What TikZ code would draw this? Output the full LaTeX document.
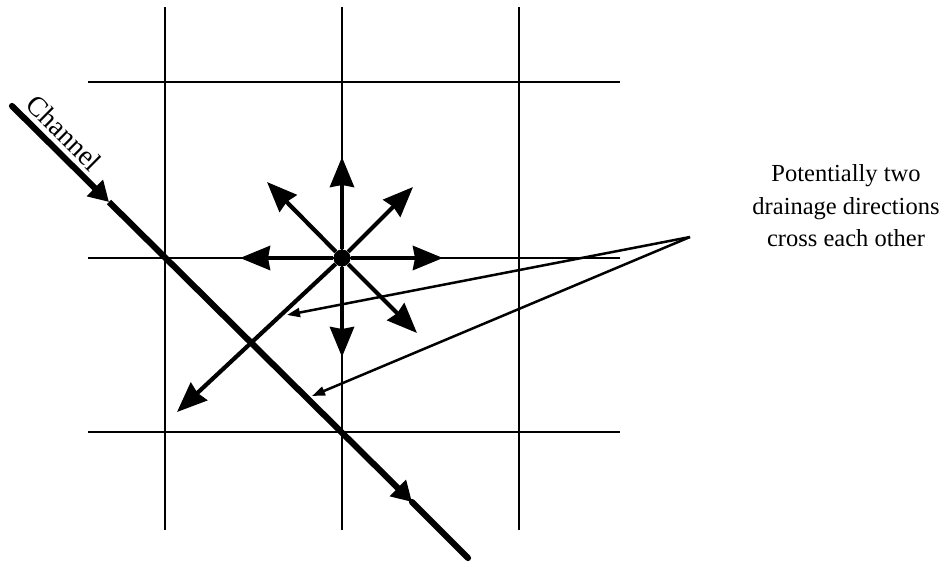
\documentclass[tikz,border=0pt]{standalone}
\usepackage{fontspec}
\setmainfont{Liberation Serif}
\usetikzlibrary{arrows.meta}
\tikzset{
  gridline/.style={line width=2.3pt},
  drain/.style={line width=4.2pt,-{Stealth[length=30pt,width=24pt,inset=2pt]}},
  chan/.style={line width=6.2pt},
  chanhead/.style={line width=6.2pt,-{Triangle[length=20pt,width=22pt]}},
  note/.style={line width=2.5pt,-{Triangle[length=13pt,width=9pt]}},
}
\begin{document}
\begin{tikzpicture}[x=1pt,y=-1pt]
\useasboundingbox (0,0) rectangle (941,564);
% grid
\foreach \gx in {165,342,519} \draw[gridline] (\gx,7) -- (\gx,530);
\foreach \gy in {82,258,432} \draw[gridline] (88,\gy) -- (620,\gy);
% channel
\coordinate (c0) at (12,106);
\coordinate (t1) at (109,202);
\coordinate (t2) at (412,502);
\coordinate (c1) at (468,558);
\draw[chanhead,line cap=round] (c0) -- (t1);
\draw[chanhead] (t1) -- (t2);
\draw[chan,line cap=round] (t2) -- (c1);
\node[rotate=-44.7,anchor=south,inner sep=0pt,font=\fontsize{28}{30}\selectfont] (chlabel) at (57,140) {Channel};
% drainage directions
\node[circle,fill,minimum size=17pt,inner sep=0pt] (c) at (342,258) {};
\coordinate (up) at (342,157);
\coordinate (ul) at (267,182);
\coordinate (ur) at (413,187);
\coordinate (lt) at (240,258);
\coordinate (rt) at (443,258);
\coordinate (dn) at (342,357);
\coordinate (lr) at (417,333);
\coordinate (ll) at (177,412);
\foreach \p in {up,ul,ur,lt,rt,dn,lr,ll} \draw[drain] (c) -- (\p);
% annotation
\node[align=center,inner sep=0pt,font=\fontsize{24.5}{32.5}\selectfont] (txt) at (846,206) {Potentially two\\drainage directions\\cross each other};
\coordinate (s) at (690,237);
\coordinate (a1) at (287,315);
\coordinate (a2) at (312,396);
\draw[note] (s) -- (a1);
\draw[note] (s) -- (a2);
\end{tikzpicture}
\end{document}
